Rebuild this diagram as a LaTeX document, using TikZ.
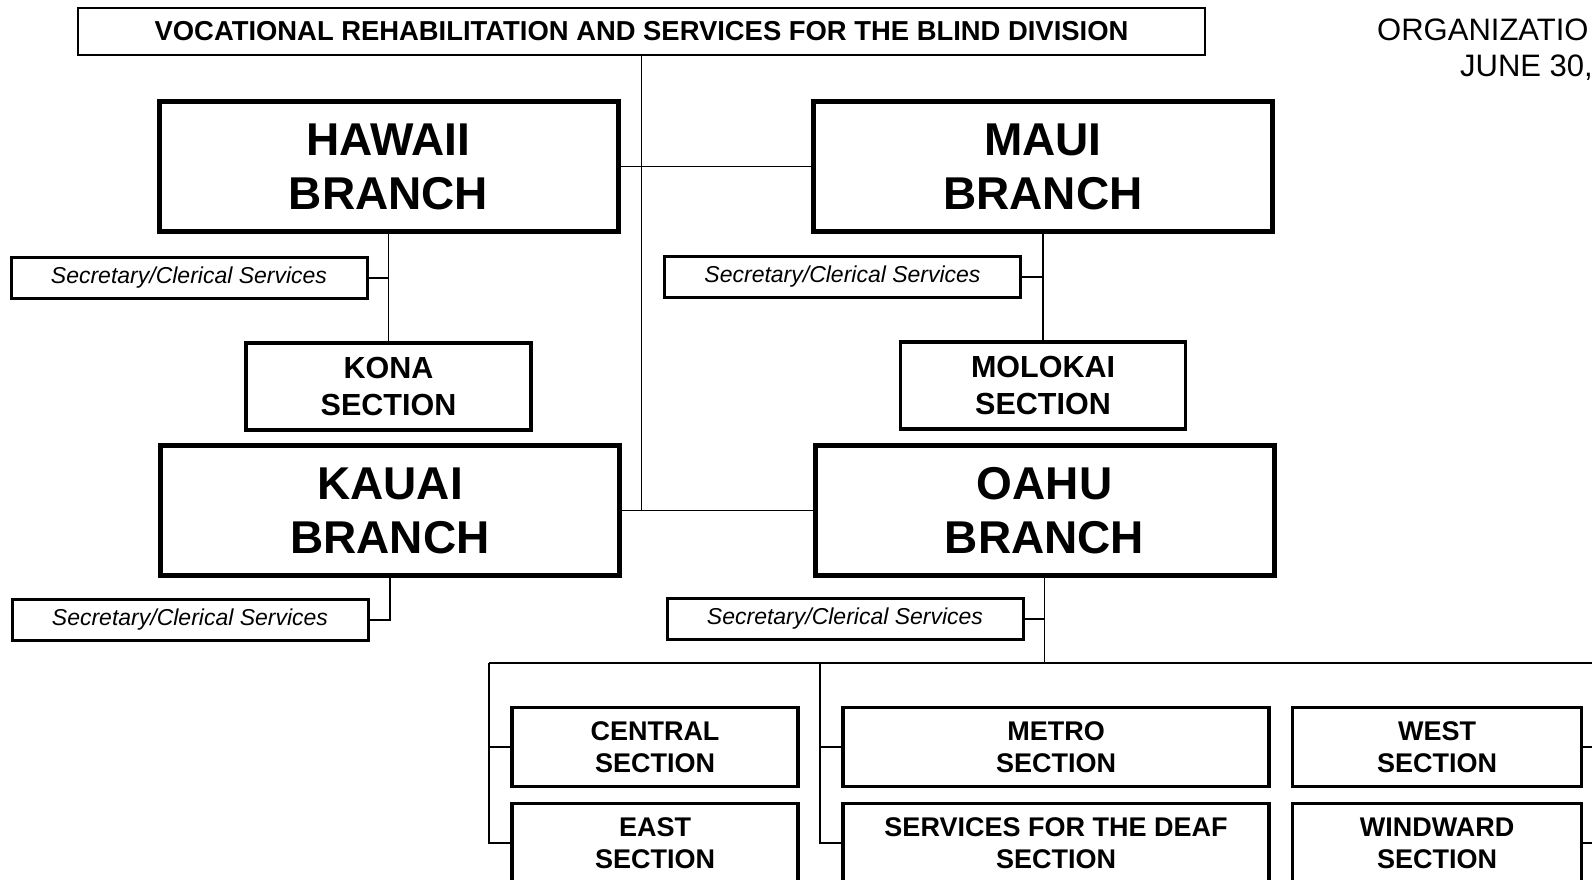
\documentclass[tikz,border=0pt]{standalone}
\usepackage{fontspec}
\setmainfont{Liberation Sans}
\usetikzlibrary{positioning}
\tikzset{
  box/.style={draw=black,inner sep=0pt,outer sep=0pt,align=center,fill=white},
  topbox/.style={box,line width=2.5pt,minimum width=1127pt,minimum height=47pt,font=\fontsize{27.4}{31}\selectfont\bfseries},
  brbox/.style={box,line width=5pt,minimum width=459pt,minimum height=130pt,font=\fontsize{46}{54}\selectfont\bfseries},
  clbox/.style={box,line width=3pt,minimum width=356pt,minimum height=41.5pt,font=\fontsize{23}{27}\selectfont\itshape},
  sbox/.style={box,line width=3.5pt,minimum width=286pt,minimum height=79pt,font=\fontsize{27}{32}\selectfont\bfseries},
  kbox/.style={sbox,minimum width=285pt,minimum height=87pt,font=\fontsize{30.5}{36.5}\selectfont\bfseries},
  lab/.style={font=\fontsize{31}{35}\selectfont,anchor=base west,inner sep=0pt},
  link/.style={draw=black,line width=1.5pt},
}
\begin{document}
\begin{tikzpicture}[x=1pt,y=-1pt]
\useasboundingbox (0,0) rectangle (1592,880);
\clip (0,0) rectangle (1592,880);
% heading
\node[topbox] (div) at (641.5,31.5) {VOCATIONAL REHABILITATION AND SERVICES FOR THE BLIND DIVISION};
\node[lab] (org) at (1377,41) {ORGANIZATIO};
\node[lab] (date) at (1460,77) {JUNE 30,};

% branches
\node[brbox] (hawaii) at (388.5,166.5) {HAWAII\\BRANCH};
\node[brbox] (maui) at (1043,166.5) {MAUI\\BRANCH};
\node[brbox] (kauai) at (390,510.5) {KAUAI\\BRANCH};
\node[brbox] (oahu) at (1044.5,510.5) {OAHU\\BRANCH};

% clerical
\node[clbox] (hsec) at (189,278) {Secretary/Clerical Services};
\node[clbox] (msec) at (842.5,277) {Secretary/Clerical Services};
\node[clbox] (ksec) at (190,620) {Secretary/Clerical Services};
\node[clbox] (osec) at (845,619) {Secretary/Clerical Services};

% sections
\node[kbox,below=111.5pt of hawaii] (kona) {KONA\\SECTION};
\node[kbox,below=110.5pt of maui] (molokai) {MOLOKAI\\SECTION};
\node[sbox] (central) at (655,747) {CENTRAL\\SECTION};
\node[sbox,below=17pt of central] (east) {EAST\\SECTION};
\node[sbox,minimum width=426pt] (metro) at (1056,747) {METRO\\SECTION};
\node[sbox,minimum width=426pt,below=17pt of metro] (deaf) {SERVICES FOR THE DEAF\\SECTION};
\node[sbox,minimum width=289pt] (west) at (1437,747) {WEST\\SECTION};
\node[sbox,minimum width=289pt,below=17pt of west] (windward) {WINDWARD\\SECTION};

\coordinate (busL) at (489,663);
\coordinate (busM) at (820,663);
\coordinate (busR) at (1600,663);

\draw[link] (div.south) -- (div.south |- kauai.east);
\draw[link] (hawaii.east) -- (maui.west);
\draw[link] (kauai.east) -- (oahu.west);

\draw[link] (hawaii.south) -- (kona.north);
\draw[link] (hsec.east) -- (hsec.east -| hawaii.south);
\draw[link] (maui.south) -- (molokai.north);
\draw[link] (msec.east) -- (msec.east -| maui.south);
\draw[link] (kauai.south) |- (ksec.east);
\draw[link] (oahu.south) -- (oahu.south |- busL);
\draw[link] (osec.east) -- (osec.east -| oahu.south);

\draw[link] (busL) -- (busR);
\draw[link] (busL) |- (central.west);
\draw[link] (busL) |- (east.west);
\draw[link] (busM) |- (metro.west);
\draw[link] (busM) |- (deaf.west);
\draw[link] (busR) |- (west.east);
\draw[link] (busR) |- (windward.east);
\end{tikzpicture}
\end{document}
